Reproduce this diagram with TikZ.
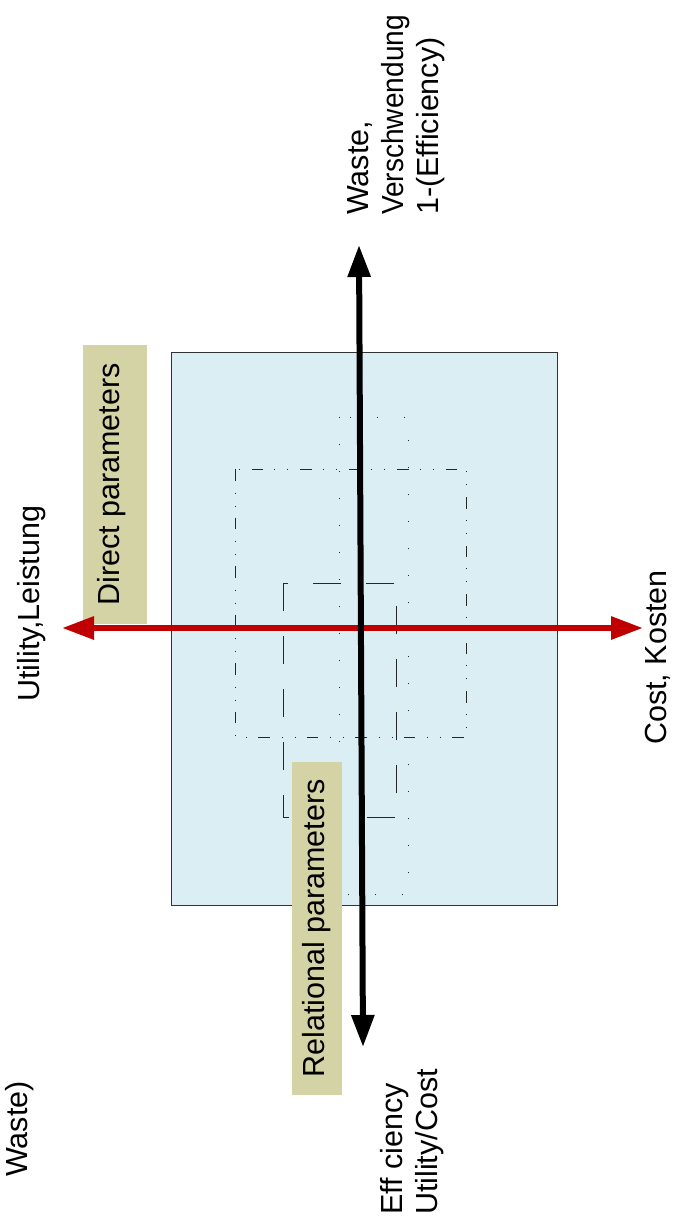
\documentclass[tikz,border=0pt]{standalone}
\usepackage{fontspec}
\setmainfont{Liberation Sans}
\usetikzlibrary{arrows.meta}
\definecolor{fieldblue}{HTML}{DAEEF3}
\definecolor{tagbeige}{RGB}{212,211,165}
\definecolor{axisred}{HTML}{C00000}
\tikzset{
  txt/.style={font=\fontsize{30.5}{35}\selectfont, inner sep=0pt, rotate=90, anchor=north west, align=left},
  tag/.style={fill=tagbeige, inner sep=0pt, rotate=90, font=\fontsize{30.5}{35}\selectfont},
  axis/.style={line width=6pt, {Triangle[length=32pt,width=22pt]}-{Triangle[length=32pt,width=22pt]}},
  outerframe/.style={line width=0.9pt, black!85, dash pattern=on 11.5pt off 12pt on 1pt off 12pt on 1pt off 11pt},
  innerframe/.style={line width=0.9pt, black!85, dash pattern=on 28pt off 25pt},
  dotframe/.style={line width=1pt, black!85, dash pattern=on 1pt off 26pt}
}
\begin{document}
\begin{tikzpicture}[x=1pt,y=-1pt]
        \useasboundingbox (0,0) rectangle (672,1223);
        \node[draw=black!80, fill=fieldblue, line width=0.9pt, inner sep=0pt,
              minimum width=386pt, minimum height=553pt] (field) at (364,628.5) {};

        \draw[dotframe] (339,417) rectangle (408,894);
        \draw[outerframe] (235,469) rectangle (466,737);
        \draw[innerframe] (283,583) rectangle (396,817);

        \node[tag, minimum width=279pt, minimum height=64pt, text depth=14pt] (direct) at (115,484.5) {Direct parameters};
        \node[tag, minimum width=333pt, minimum height=50pt] (relational) at (317,928.5) {Relational parameters};

        \coordinate (utility) at (62,628); \coordinate (cost) at (643,628);
        \coordinate (waste) at (359,245); \coordinate (eff) at (363,1047);
        \draw[axis, axisred] (cost) -- (utility);
        \draw[axis] (eff) -- (waste);

        \node[txt] (wastelbl) at (347,215) {Waste,\\\scalebox{0.92}[1]{Verschwendung}\\1-(Efficiency)};
        \node[txt] (efflbl) at (380,1215) {Eff ciency\\Utility/Cost};
        \node[txt] (utilitylbl) at (17,702) {Utility,Leistung};
        \node[txt] (costlbl) at (645,745) {Cost, Kosten};
        \node[txt] (cutlbl) at (5,1177) {Waste)};
    \end{tikzpicture}
\end{document}
